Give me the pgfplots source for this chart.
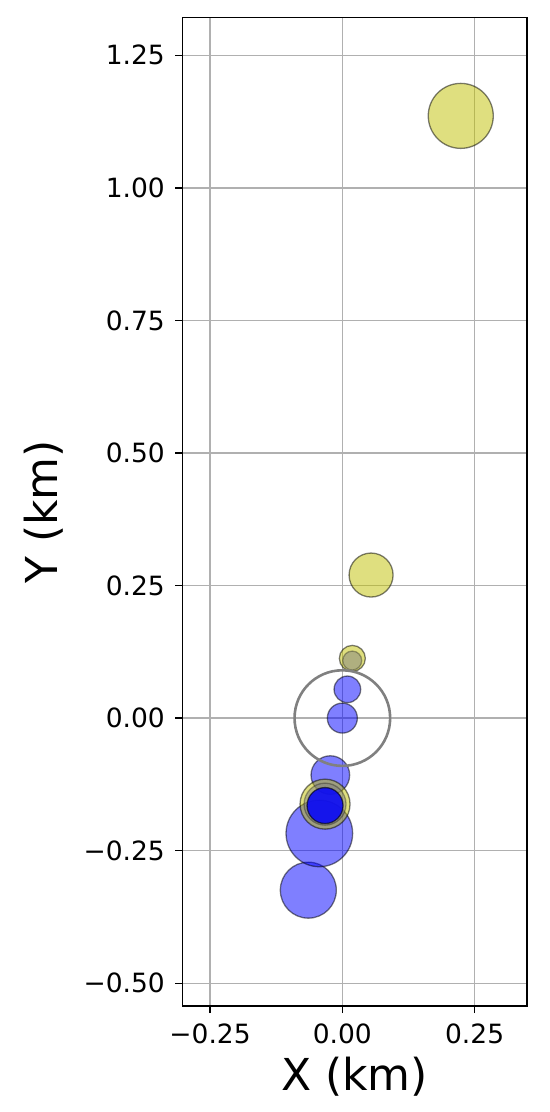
\documentclass[border=0pt]{standalone}
\usepackage{fontspec}
\setmainfont{DejaVu Sans}
\usepackage{pgfplots}
\pgfplotsset{compat=1.18}

\definecolor{myyellow}{rgb}{0.75,0.75,0}
\definecolor{gridgray}{RGB}{176,176,176}

% circle styles: fill alpha 0.5, edge black alpha 0.5
\pgfplotsset{
  yel/.style={only marks, mark=*, mark options={fill=myyellow, fill opacity=0.5, draw=black, draw opacity=0.5, line width=1.3pt}},
  blu/.style={only marks, mark=*, mark options={fill=blue, fill opacity=0.5, draw=black, draw opacity=0.5, line width=1.3pt}},
  gry/.style={only marks, mark=*, mark options={fill=gray, fill opacity=0.5, draw=black, draw opacity=0.3, line width=1.3pt}},
}

\begin{document}
\begin{tikzpicture}
\begin{axis}[
  name=ax,
  scale only axis,
  width=344.7pt, height=988.3pt,
  xmin=-0.3025, xmax=0.349,
  ymin=-0.543, ymax=1.321,
  xtick={-0.25,0,0.25},
  xticklabels={−0.25,0.00,0.25},
  ytick={-0.5,-0.25,0,0.25,0.5,0.75,1,1.25},
  yticklabels={−0.50,−0.25,0.00,0.25,0.50,0.75,1.00,1.25},
  tick align=outside,
  major tick length=7pt,
  tick style={black, line width=1.3pt},
  xtick pos=bottom, ytick pos=left,
  axis line style={line width=1.3pt},
  grid=major,
  major grid style={gridgray, line width=1.3pt},
  tick label style={font=\fontsize{26.5}{30}\selectfont},
  xticklabel style={anchor=north, yshift=-7pt},
  yticklabel style={anchor=east, xshift=-7pt},
  label style={font=\fontsize{44}{50}\selectfont},
  xlabel={X (km)},
  ylabel={Y (km)},
  xlabel style={at={(axis description cs:0.5,0)}, anchor=center, yshift=-71pt},
  ylabel style={at={(axis description cs:0,0.5)}, anchor=center, yshift=139pt},
]
% blue circles
\addplot[blu, mark size=28pt] coordinates {(-0.0643,-0.3245)};
\addplot[blu, mark size=33.3pt] coordinates {(-0.0435,-0.2175)};
\addplot[blu, mark size=19.3pt] coordinates {(-0.0227,-0.1075)};
\addplot[blu, mark size=15pt] coordinates {(0,0)};
\addplot[blu, mark size=13.3pt] coordinates {(0.0095,0.0542)};
% yellow circles
\addplot[yel, mark size=25pt] coordinates {(-0.0327,-0.1623)};
\addplot[yel, mark size=13pt] coordinates {(0.0189,0.1126)};
\addplot[yel, mark size=22pt] coordinates {(0.0543,0.2698)};
\addplot[yel, mark size=32.5pt] coordinates {(0.2238,1.1358)};
% gray overlays
\addplot[gry, mark size=21pt] coordinates {(-0.0327,-0.1623)};
\addplot[gry, mark size=9.5pt] coordinates {(0.0187,0.1085)};
% dark blue
\addplot[only marks, mark=*, mark size=18pt, mark options={fill=blue, fill opacity=0.85, draw=black, draw opacity=0.6, line width=1.3pt}] coordinates {(-0.0327,-0.165)};
% open ring
\addplot[only marks, mark=o, mark size=47.8pt, mark options={draw=gray, line width=2.6pt}] coordinates {(0,0)};
\end{axis}
\path (ax.south west) ++(-182.3pt,-106pt) coordinate (bl);
\path (ax.north east) ++(23pt,17.7pt) coordinate (tr);
\path (bl) rectangle (tr);
\end{tikzpicture}
\end{document}
